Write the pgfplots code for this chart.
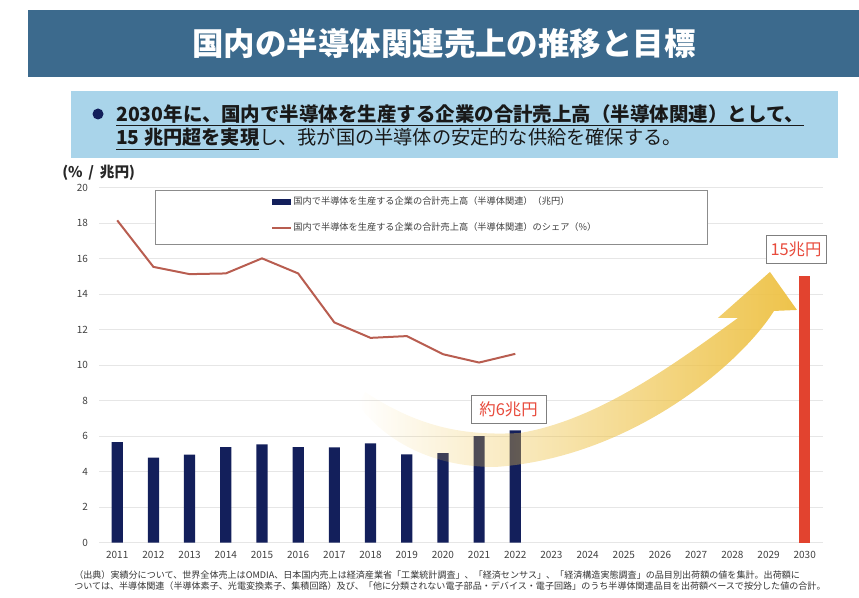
\documentclass[border=0pt]{standalone}
\usepackage{fontspec}
\setmainfont{Noto Sans CJK JP}
\usepackage{pgfplots}
\pgfplotsset{compat=1.18}
\usetikzlibrary{fadings}
\definecolor{banner}{HTML}{3C6A8D}
\definecolor{boxblue}{HTML}{A9D4EA}
\definecolor{navy}{HTML}{131F5B}
\definecolor{redbar}{HTML}{E2432F}
\definecolor{linered}{HTML}{B85D50}
\definecolor{annred}{HTML}{E84B3C}
\definecolor{anngray}{HTML}{7F7F7F}
\definecolor{gold}{HTML}{EEC34A}
\definecolor{ticklab}{HTML}{404040}
\definecolor{gridc}{HTML}{E6E6E6}
\definecolor{legframe}{HTML}{8C8C8C}
\tikzfading[name=fadeR, left color=transparent!100, right color=transparent!0]

\begin{document}
\begin{tikzpicture}
\begin{axis}[
  at={(74.475pt,-407.025pt)}, anchor=south west,
  scale only axis, width=543pt, height=266.25pt,
  xmin=2010.505, xmax=2030.511, ymin=0, ymax=20,
  xtick={2011,...,2030}, ytick={0,2,...,20},
  /pgf/number format/1000 sep={},
  /pgf/number format/assume math mode=true,
  axis line style={draw=none}, major tick length=0pt,
  ymajorgrids, grid style={line width=0.75pt, color=gridc},
  ticklabel style={font=\fontsize{7.5}{9}\selectfont, text=ticklab},
  yticklabel style={xshift=-5pt},
  xticklabel style={yshift=-3pt},
  legend style={at={(axis description cs:0.237,0.979)}, anchor=north west,
    draw=none, fill=none, font=\fontsize{6.9}{8}\selectfont, text=ticklab,
    row sep=10pt, inner sep=0pt, nodes={inner sep=1pt}},
  legend cell align=left,
]
\addplot[ybar, bar width=8.4pt, bar shift=0pt, fill=navy, draw=none,
  legend image code/.code={\fill[navy] (0pt,-2.25pt) rectangle (14.25pt,2.25pt);}]
  coordinates {(2011,5.66) (2012,4.79) (2013,4.96) (2014,5.39) (2015,5.54) (2016,5.39)
               (2017,5.37) (2018,5.60) (2019,4.98) (2020,5.05) (2021,6.01) (2022,6.33)};
\addlegendentry{国内で半導体を生産する企業の合計売上高（半導体関連）（兆円）}
\addplot[ybar, bar width=8.4pt, bar shift=0pt, fill=redbar, draw=none, forget plot]
  coordinates {(2030,15)};
\addplot[color=linered, line width=1.5pt, mark=none,
  legend image code/.code={\draw[linered, line width=1.5pt] (0pt,0pt) -- (14.25pt,0pt);}]
  coordinates {(2011,18.16) (2012,15.54) (2013,15.13) (2014,15.17) (2015,16.02) (2016,15.17)
               (2017,12.41) (2018,11.54) (2019,11.64) (2020,10.62) (2021,10.15) (2022,10.64)};
\addlegendentry{国内で半導体を生産する企業の合計売上高（半導体関連）のシェア（\%）}
\draw[draw=legframe, fill=white, line width=0.75pt]
  (rel axis cs:0.0776,0.9935) rectangle (rel axis cs:0.8407,0.8414);
\end{axis}
\begin{scope}[x=0.75pt,y=-0.75pt]
  % title banner
  \fill[banner] (28,10) rectangle (859,77);
  \node[text=white, font=\bfseries\fontsize{23.6}{28}\selectfont] at (444,44) {国内の半導体関連売上の推移と目標};
  % blue box
  \fill[boxblue] (71,91) rectangle (838,158);
  \fill[navy] (98,114) circle (5.5);
  \node[anchor=base west, inner sep=0pt, font=\fontsize{14.6}{17}\selectfont, text=black!90] at (116,121.5)
    {\bfseries\underline{2030年に、国内で半導体を生産する企業の合計売上高（半導体関連）として、}};
  \node[anchor=base west, inner sep=0pt, font=\fontsize{14.4}{17}\selectfont, text=black!90] at (116,145)
    {{\bfseries\underline{15 兆円超を実現}}し、我が国の半導体の安定的な供給を確保する。};
  % unit label
  \node[anchor=west, inner sep=0pt, font=\bfseries\fontsize{11}{12}\selectfont, text=black!85] at (62,172.5) {(\%\ \,/\ \,兆円)};
  % arrow
  \fill[gold, path fading=fadeR] (365,392) .. controls (420,428) and (465,436) .. (520,433)
     .. controls (600,420) and (680,360) .. (738,318) -- (718,318) -- (770,272) -- (797,310) -- (774,311)
     .. controls (740,365) and (630,458) .. (495,467) .. controls (430,467) and (385,440) .. (358,405) -- cycle;
  % annotation boxes
  \node[draw=anngray, line width=0.75pt, fill=white, text=annred, font=\fontsize{12.3}{14}\selectfont,
        minimum width=56.25pt, minimum height=20.7pt, inner sep=0pt] at (508.5,409.5) {約6兆円};
  \node[draw=anngray, line width=0.75pt, fill=white, text=annred, font=\fontsize{12.3}{14}\selectfont,
        minimum width=45pt, minimum height=21pt, inner sep=0pt] at (796,249.3) {15兆円};
  % footnote
  \node[anchor=west, inner sep=0pt, font=\fontsize{6.8}{8}\selectfont, text=black!80] at (74,575)
    {（出典）実績分について、世界全体売上はOMDIA、日本国内売上は経済産業省「工業統計調査」、「経済センサス」、「経済構造実態調査」の品目別出荷額の値を集計。出荷額に};
  \node[anchor=west, inner sep=0pt, font=\fontsize{6.8}{8}\selectfont, text=black!80] at (74,586)
    {ついては、半導体関連（半導体素子、光電変換素子、集積回路）及び、「他に分類されない電子部品・デバイス・電子回路」のうち半導体関連品目を出荷額ベースで按分した値の合計。};
\end{scope}
\pgfresetboundingbox
\path[use as bounding box] (0,0) rectangle (644.25pt,-448.5pt);
\end{tikzpicture}
\end{document}
